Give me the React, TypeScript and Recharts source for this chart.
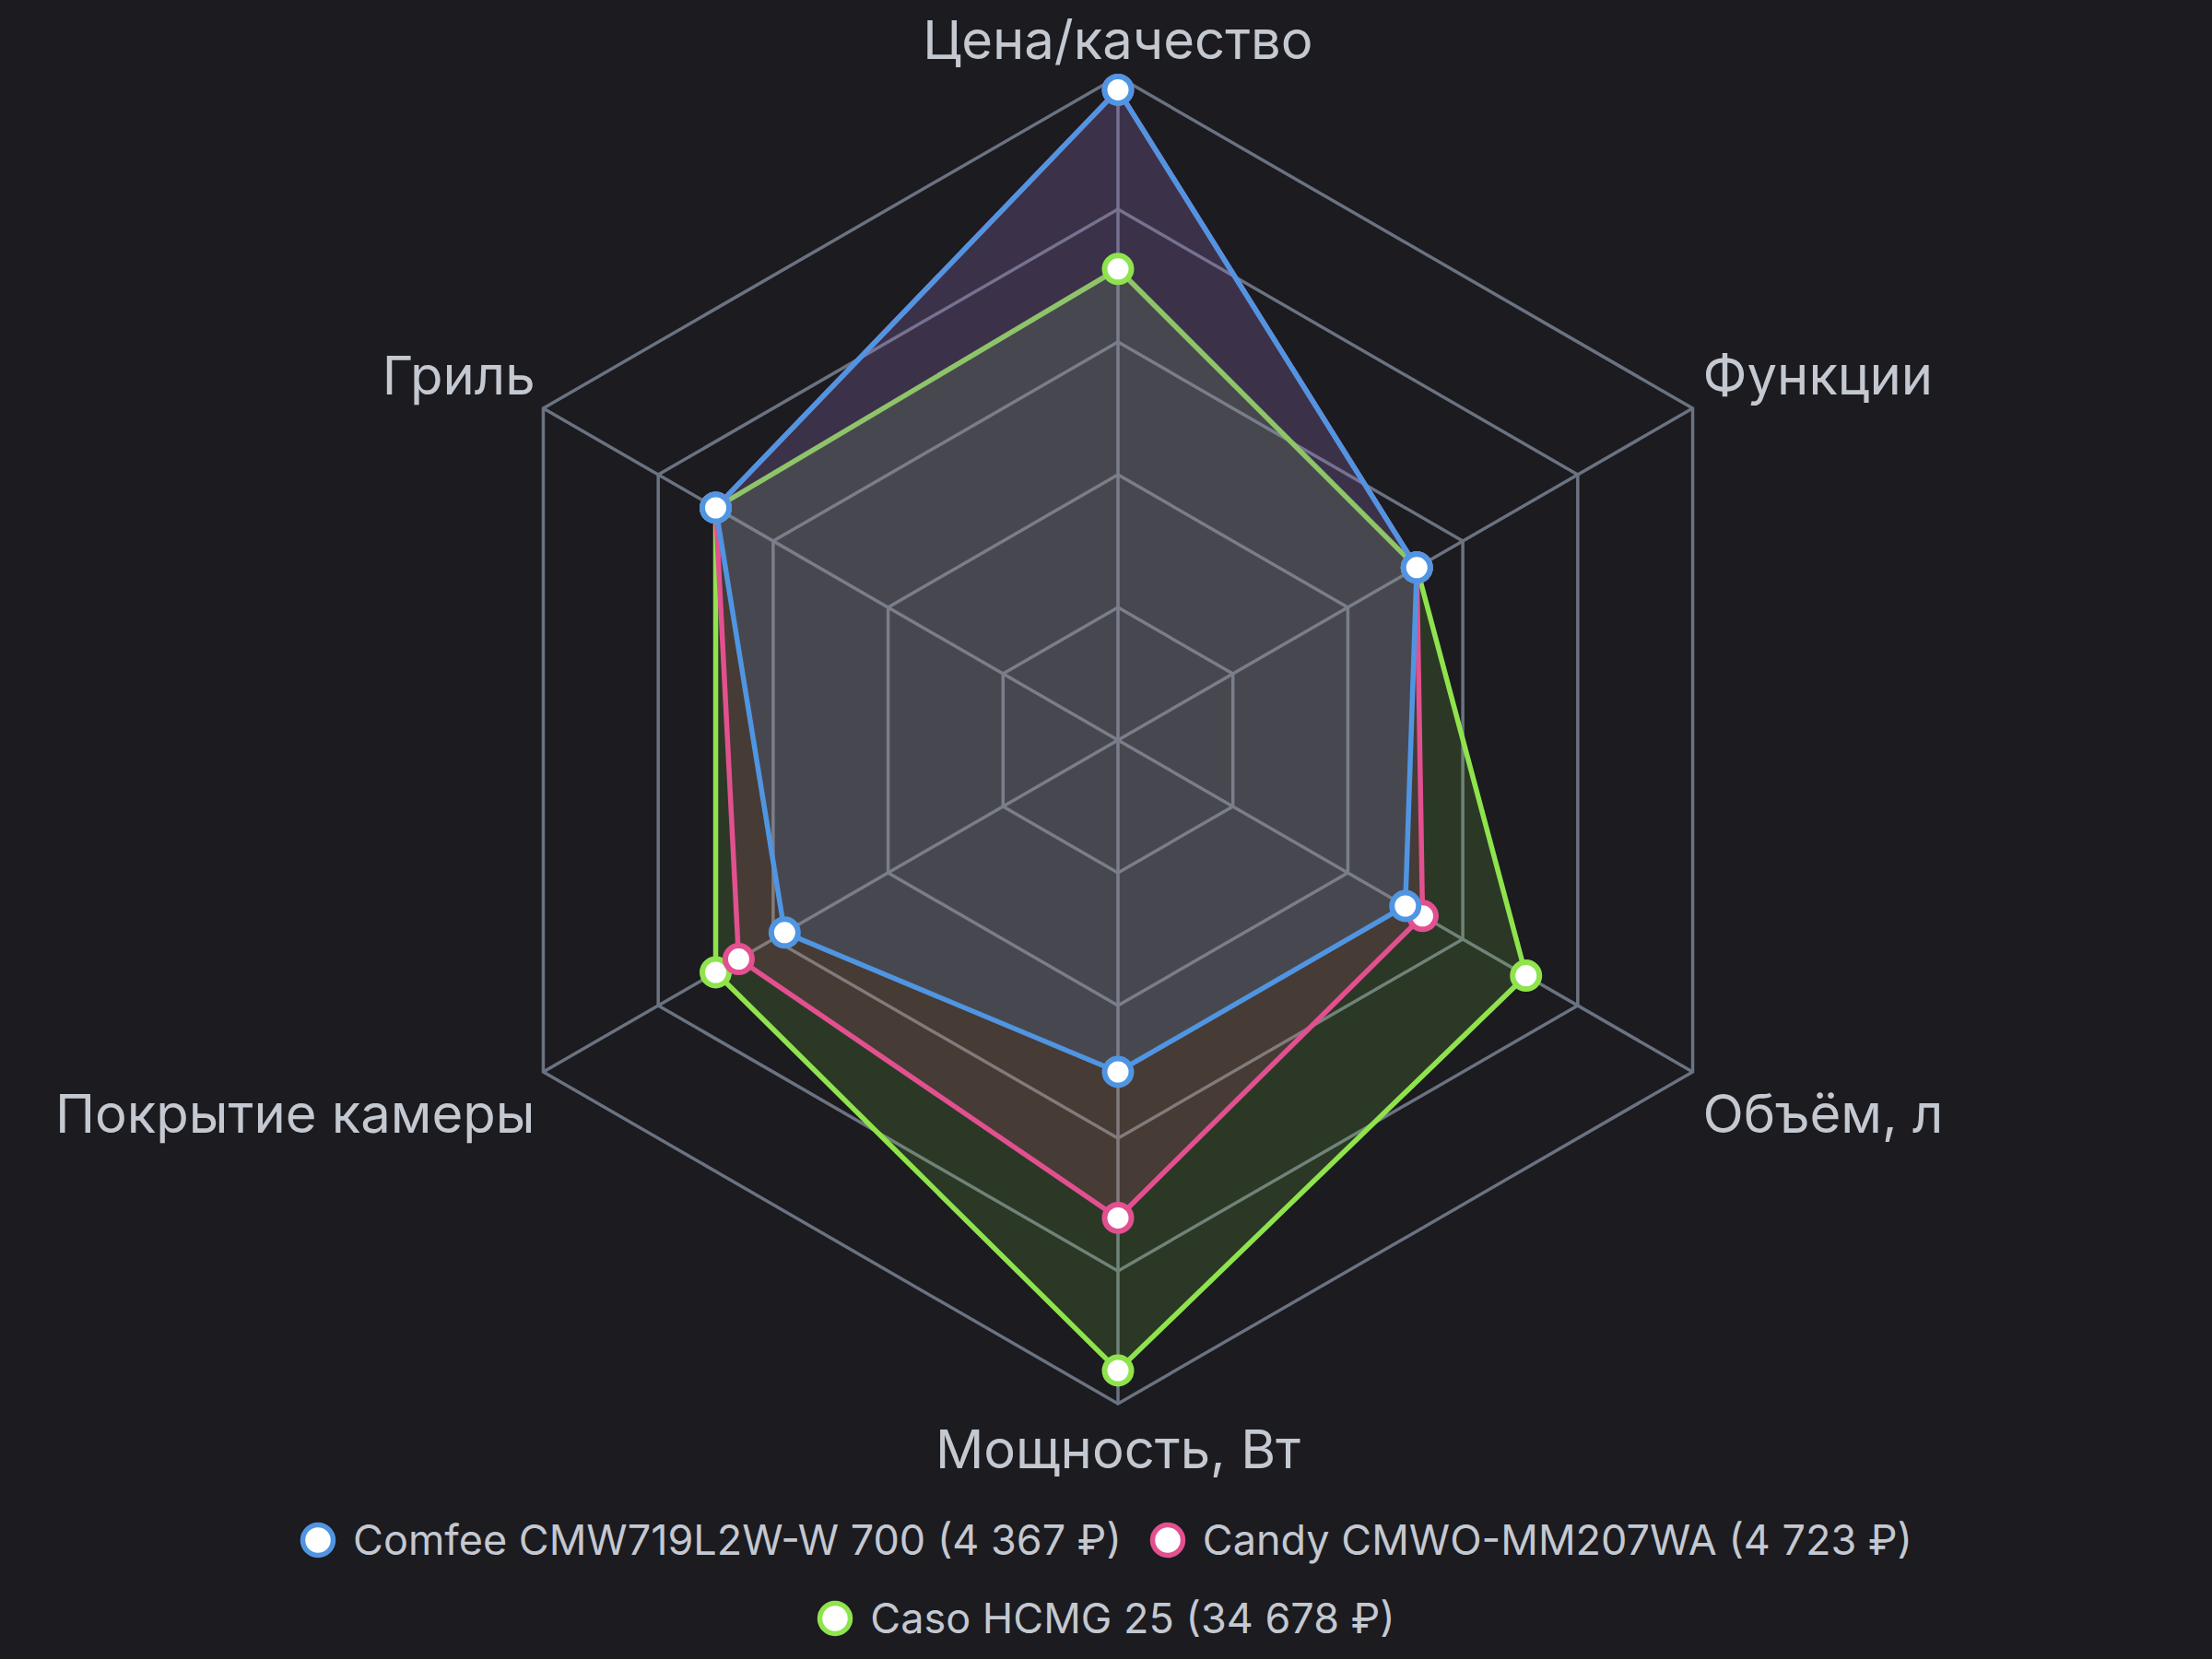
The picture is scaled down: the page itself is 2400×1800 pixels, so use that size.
import { RadarChart, Radar, PolarGrid, PolarAngleAxis, PolarRadiusAxis, Legend } from 'recharts';

const axes = ['Цена/качество', 'Функции', 'Объём, л', 'Мощность, Вт', 'Покрытие камеры', 'Гриль'];

const comfee = [98, 52, 50, 50, 58, 70];
const candy = [98, 52, 53, 72, 66, 70];
const caso = [71, 52, 71, 95, 70, 70];

const seriesNames = [
  'Comfee CMW719L2W-W 700 (4 367 ₽)',
  'Candy CMWO-MM207WA (4 723 ₽)',
  'Caso HCMG 25 (34 678 ₽)',
];
const seriesKeys = ['comfee', 'candy', 'caso'];
const COLORS = ['#5095e2', '#e2508f', '#8fe34c'];

const data = axes.map((axis, i) => ({
  axis,
  comfee: comfee[i],
  candy: candy[i],
  caso: caso[i],
}));

const BG = '#1b1b20';
const TEXT = '#c4c8d0';

// labels above the vertex for the upper half, below it for the lower half
function AxisTick(props: any) {
  const { x, y, cy, payload, textAnchor } = props;
  const upper = y < cy;
  let dx = 0;
  if (textAnchor === 'start') dx = 4;
  if (textAnchor === 'end') dx = -2;
  return (
    <text
      x={x + dx}
      y={upper ? y - 11 : y + 62}
      textAnchor={textAnchor}
      fill={TEXT}
      fontSize={58}
      fontFamily="Inter"
    >
      {payload.value}
    </text>
  );
}

function LegendContent() {
  return (
    <div
      style={{
        display: 'flex',
        flexWrap: 'wrap',
        justifyContent: 'center',
        columnGap: 30,
        rowGap: 30,
        maxWidth: 1900,
        margin: '0 auto',
        fontFamily: 'Inter',
        fontSize: 45,
        color: TEXT,
        lineHeight: '55px',
      }}
    >
      {seriesNames.map((name, i) => (
        <div key={name} style={{ display: 'flex', alignItems: 'center' }}>
          <svg width={40} height={40} style={{ marginRight: 18 }}>
            <circle cx={20} cy={20} r={16.5} fill="#fff" stroke={COLORS[i]} strokeWidth={5.5} />
          </svg>
          <span>{name}</span>
        </div>
      ))}
    </div>
  );
}

export default function App() {
  // draw Caso first so Comfee ends up on top
  const order = [2, 1, 0];
  return (
    <div style={{ position: 'absolute', left: 0, top: 0, width: 2400, height: 1800, background: BG }}>
      <RadarChart width={2400} height={1800} cx={1213} cy={803} outerRadius={720} data={data}>
        <PolarGrid gridType="polygon" stroke="#6b7280" strokeWidth={3.5} />
        <PolarRadiusAxis domain={[0, 100]} tickCount={6} tick={false} axisLine={false} />
        <PolarAngleAxis dataKey="axis" tick={AxisTick} tickLine={false} axisLine={false} />
        {order.map((i) => (
          <Radar
            key={seriesKeys[i]}
            name={seriesNames[i]}
            dataKey={seriesKeys[i]}
            stroke={COLORS[i]}
            strokeWidth={5.5}
            fill={COLORS[i]}
            fillOpacity={0.15}
            dot={{ r: 14.5, fill: '#fff', stroke: COLORS[i], strokeWidth: 6, fillOpacity: 1 }}
            isAnimationActive={false}
          />
        ))}
        <Legend
          verticalAlign="top"
          content={LegendContent}
          wrapperStyle={{ top: 1643, left: 0, width: 2400 }}
        />
      </RadarChart>
    </div>
  );
}
